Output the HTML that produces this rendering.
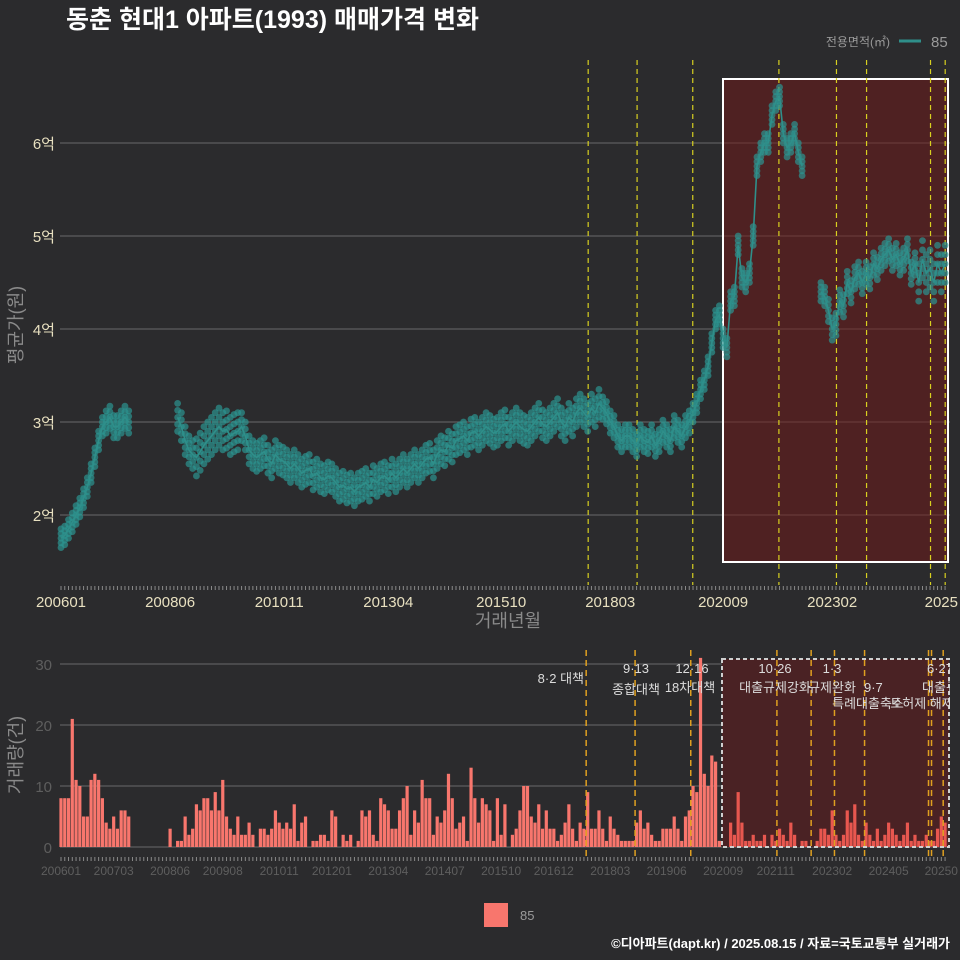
<!DOCTYPE html>
<html><head><meta charset="utf-8">
<style>
html,body{margin:0;padding:0;background:#2b2b2d;}
svg{display:block;font-family:"Liberation Sans","Noto Sans CJK KR",sans-serif;}
</style></head>
<body>
<svg id="chart" width="960" height="960" viewBox="0 0 960 960">
<rect x="0" y="0" width="960" height="960" fill="#2b2b2d"/>
<text x="66" y="28" font-size="25" font-weight="bold" fill="#ffffff">동춘 현대1 아파트(1993) 매매가격 변화</text>
<text x="890" y="46" font-size="12" fill="#9a9a9a" text-anchor="end">전용면적(㎡)</text>
<line x1="899" y1="41" x2="921" y2="41" stroke="#2f8f8a" stroke-width="3"/>
<text x="931" y="47" font-size="15" fill="#9a9a9a">85</text>
<g id="topPanel"></g>
<g id="botPanel"></g>
<rect x="484" y="903" width="24" height="24" fill="#f8766d"/>
<text x="520" y="920" font-size="13" fill="#9a9a9a">85</text>
<text x="950" y="948" font-size="13" font-weight="bold" fill="#ffffff" text-anchor="end">©디아파트(dapt.kr) / 2025.08.15 / 자료=국토교통부 실거래가</text>
</svg>
<script>
const avgPrice = [1.75,1.78,1.85,1.92,2.0,2.08,2.18,2.3,2.45,2.62,2.8,2.95,
3.0,3.05,2.95,2.95,3.0,3.05,3.0,
null,null,null,null,null,null,null,null,null,null,null,null,
3.05,2.95,2.8,2.7,2.65,2.62,2.68,2.75,2.8,2.85,2.9,2.95,2.9,2.92,2.85,2.88,2.9,2.95,2.85,2.7,
2.65,2.62,2.65,2.68,2.6,2.55,2.65,2.6,2.58,2.55,2.5,2.55,2.5,2.45,2.48,2.5,2.42,2.45,2.4,2.38,
2.42,2.4,2.35,2.3,2.32,2.28,2.3,2.25,2.3,2.32,2.35,2.3,2.38,2.35,2.4,2.42,2.38,2.45,2.4,2.45,
2.5,2.45,2.5,2.55,2.5,2.55,2.6,2.62,2.55,2.65,2.7,2.68,2.75,2.72,2.8,2.82,2.85,2.8,2.88,2.9,
2.85,2.9,2.95,2.92,2.88,2.9,2.95,2.98,2.9,2.95,3.0,2.95,2.92,2.9,2.95,3.0,3.05,2.98,2.95,3.0,
3.05,3.1,3.0,2.95,3.05,3.0,3.1,3.15,3.1,3.05,3.15,3.1,3.2,3.15,3.1,3.0,2.95,2.85,2.8,2.85,
2.85,2.8,2.75,2.85,2.8,2.78,2.85,2.75,2.8,2.9,2.85,2.8,2.95,2.9,2.85,2.95,3.0,3.1,3.2,3.35,
3.45,3.6,3.85,4.1,4.15,3.9,3.8,4.3,4.35,4.9,4.55,4.5,4.6,5.0,5.75,5.9,6.0,6.0,6.3,6.45,6.5,6.1,5.95,6.0,6.1,5.9,5.75,
null,null,null,null,
4.4,4.35,4.2,4.0,4.05,4.3,4.25,4.5,4.4,4.55,4.6,4.5,4.6,4.55,4.7,4.65,4.75,4.8,4.85,4.75,4.8,4.7,4.75,4.85,4.6,4.7,4.5,4.75,4.6,4.65,4.5,4.7,4.6,4.7];
const yearSpread = [.1,.12,.15,.2,.15,.15,.15,.15,.15,.15,.15,.15,.12,.12,.1,.1,.1,.12,.12,.2];
const volume = [8,8,8,21,11,10,5,5,11,12,11,8,4,3,5,3,6,6,5,
0,0,0,0,0,0,0,0,0,0,
3,0,1,1,5,2,3,7,6,8,8,6,9,6,11,5,3,2,5,2,2,4,
2,0,3,3,2,3,6,4,3,4,3,7,1,4,5,0,1,1,2,2,
1,6,5,0,2,1,2,0,1,6,5,6,2,1,8,7,6,3,3,6,
8,10,2,6,4,11,8,8,2,5,4,6,12,8,3,4,5,1,13,8,
4,8,7,6,1,8,2,7,0,2,3,6,10,10,5,4,7,3,6,3,
3,1,2,4,7,3,1,4,3,9,3,3,6,3,1,5,3,2,1,1,
1,1,4,6,3,4,2,1,1,3,3,3,5,3,1,5,6,10,9,31,12,10,15,14,1,
0,0,4,2,9,4,1,1,2,1,1,2,0,2,1,3,2,1,4,2,0,1,1,0,0,
1,3,3,2,6,2,1,2,6,4,7,2,1,4,2,1,3,1,2,4,3,2,1,2,4,1,2,1,1,2,1,1,3,5,4];
const priceTicks = [2,3,4,5,6];
const volTicks = [0,10,20,30];
const topXLabels = ["200601","200806","201011","201304","201510","201803","202009","202302","202507"];
const botXLabels = ["200601","200703","200806","200908","201011","201201","201304","201407","201510","201612","201803","201906","202009","202111","202302","202405","202507"];
const eventMonths = [139.6,152.6,167.4,190.3,199.4,205.6,213.6,230.6,231.4,234.5];

const NS="http://www.w3.org/2000/svg";
const X0=61, XS=3.762;
const xm = i => X0 + i*XS;
const ymTop = v => 515 - (v-2)*93;
const ymBot = v => 847 - v*6.1;
const mi = s => (parseInt(s.slice(0,4))-2006)*12 + parseInt(s.slice(4,6))-1;
function mk(parent,tag,attrs){const e=document.createElementNS(NS,tag);for(const k in attrs)e.setAttribute(k,attrs[k]);parent.appendChild(e);return e;}
const topG=document.getElementById('topPanel'), botG=document.getElementById('botPanel');

priceTicks.forEach(v=>{
  const g=mk(topG,'line',{x1:60,x2:950,y1:ymTop(v),y2:ymTop(v),stroke:'#6a6a6a','stroke-width':1});
  
  
  const t=mk(topG,'text',{x:55,y:ymTop(v)+6,'font-size':15,fill:'#e8e0c0','text-anchor':'end'});
  t.textContent=v+'억';
  
  
});
const bx=mk(topG,'rect',{x:723,y:79,width:225,height:483,fill:'rgba(110,25,25,0.55)',stroke:'#ffffff','stroke-width':2});


eventMonths.filter((m,k)=>k!==4&&k!==8).forEach(m=>{
  const l=mk(topG,'line',{x1:xm(m)+2,x2:xm(m)+2,y1:60,y2:585,stroke:'#d8d020','stroke-width':1.2,'stroke-dasharray':'5,4'});
  
  
});
let seg=[];const segs=[];
avgPrice.forEach((v,i)=>{if(v==null){if(seg.length)segs.push(seg);seg=[];}else seg.push([xm(i),ymTop(v)]);});
if(seg.length)segs.push(seg);
avgPrice.forEach((v,i)=>{
  if(v==null)return;
  const s=yearSpread[Math.floor(i/12)];
  [-1,-0.5,0,0.5,1].forEach(k=>{
    const c=mk(topG,'circle',{cx:xm(i),cy:ymTop(v+k*s),r:3.4,fill:'#2c9490','fill-opacity':0.7});
    
    
  });
});
segs.forEach(sg=>{
  const p=mk(topG,'polyline',{points:sg.map(q=>q.join(',')).join(' '),fill:'none',stroke:'#2f8f8a','stroke-width':1.6});
  
  
});
for(let i=0;i<236;i++){mk(topG,'line',{x1:xm(i),x2:xm(i),y1:586,y2:590,stroke:'#8a8a8a','stroke-width':1});}
topXLabels.forEach(s=>{
  const t=mk(topG,'text',{x:xm(mi(s)),y:607,'font-size':15,fill:'#e8e0c0','text-anchor':'middle'});
  t.textContent=s==="202507"?"2025":s;
  
  
});
let tl=mk(topG,'text',{x:508,y:627,'font-size':18,fill:'#8a8a8a','text-anchor':'middle'});tl.textContent='거래년월';


tl=mk(topG,'text',{x:0,y:0,'font-size':18,fill:'#8a8a8a','text-anchor':'middle',transform:'translate(22,325) rotate(-90)'});tl.textContent='평균가(원)';



volTicks.forEach(v=>{
  const g=mk(botG,'line',{x1:60,x2:950,y1:ymBot(v),y2:ymBot(v),stroke:'#6a6a6a','stroke-width':1});
  
  
  const tt=mk(botG,'text',{x:52,y:ymBot(v)+6,'font-size':15,fill:'#5e5e5e','text-anchor':'end'});
  tt.textContent=v;
  
  
});
const bbf=mk(botG,'rect',{x:722,y:659,width:227,height:188,fill:'#4a2224'});


volume.forEach((v,i)=>{
  if(!v)return;
  const r=mk(botG,'rect',{x:xm(i)-1.6,y:ymBot(v),width:3.2,height:v*6.1,fill:i>=176?'#e8574f':'#f8766d'});
  
  
});
const bb=mk(botG,'rect',{x:722,y:659,width:227,height:188,fill:'none',stroke:'#cfcfcf','stroke-width':2,'stroke-dasharray':'4,3'});


eventMonths.forEach(m=>{
  const l=mk(botG,'line',{x1:xm(m),x2:xm(m),y1:650,y2:860,stroke:'#e0a020','stroke-width':1.5,'stroke-dasharray':'6,4'});
  
  
});
const clip=mk(botG,'clipPath',{id:'cp'});mk(clip,'rect',{x:0,y:640,width:950,height:90});
const ann=[["8·2 대책",584,683,'end'],["9·13",636,673,'middle'],["종합대책",636,694,'middle'],["12·16",692,673,'middle'],["18차대책",690,692,'middle'],["10·26",775,673,'middle'],["대출규제강화",775,692,'middle'],["1·3",832,673,'middle'],["규제완화",832,692,'middle'],["9·7",864,692,'start'],["특례대출축소",868,708,'middle'],["토허제 해제",922,708,'middle'],["6·27",940,673,'middle'],["대출규",940,692,'middle']];
ann.forEach(a=>{
  const tx=mk(botG,'text',{x:a[1],y:a[2],'font-size':13,fill:'#dcdcdc','text-anchor':a[3],'clip-path':'url(#cp)'});
  tx.textContent=a[0];
  
  
});
for(let i=0;i<236;i++){mk(botG,'line',{x1:xm(i),x2:xm(i),y1:857,y2:861,stroke:'#8a8a8a','stroke-width':1});}
botXLabels.forEach(s=>{
  const tt=mk(botG,'text',{x:xm(mi(s)),y:875,'font-size':12,fill:'#5e5e5e','text-anchor':'middle'});
  tt.textContent=s==="202507"?"20250":s;
  
  
});
tl=mk(botG,'text',{x:0,y:0,'font-size':18,fill:'#8a8a8a','text-anchor':'middle',transform:'translate(22,755) rotate(-90)'});tl.textContent='거래량(건)';


</script>
</body></html>
